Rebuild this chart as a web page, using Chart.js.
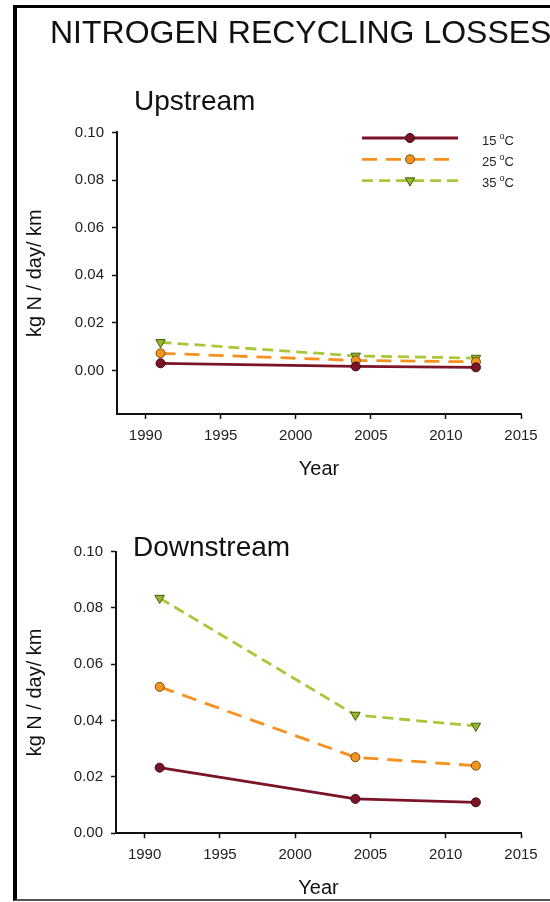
<!DOCTYPE html>
<html>
<head>
<meta charset="utf-8">
<script src="https://cdn.jsdelivr.net/npm/chart.js@4.4.1/dist/chart.umd.min.js"></script>
<style>
html, body { margin: 0; padding: 0; background: #fff; overflow: hidden; width: 550px; height: 902px; }
#frame { position: absolute; left: 13px; top: 5px; width: 600px; height: 891px;
         border-left: 4px solid #000; border-top: 3px solid #000; border-bottom: 2px solid #555; }
.txt { position: absolute; font-family: "Liberation Sans", Arial, sans-serif; color: #111;
       line-height: 1; white-space: nowrap; z-index: 2; }
canvas { position: absolute; left: 0; z-index: 1; }
</style>
</head>
<body>
<div id="frame"></div>
<div class="txt" style="left:50px; top:16px; font-size:32px;">NITROGEN RECYCLING LOSSES</div>
<div class="txt" style="left:134px; top:87px; font-size:28px;">Upstream</div>
<div class="txt" style="left:133px; top:533px; font-size:28px;">Downstream</div>
<canvas id="upChart" width="550" height="500" style="top:0px;"></canvas>
<canvas id="downChart" width="550" height="402" style="top:500px;"></canvas>
<script>
/* ==============================
   DATA
============================== */
var years = [1991, 2004, 2012];
var seriesNames = ["15", "25", "35"];

var upstream15 = [0.0030, 0.0017, 0.0013];
var upstream25 = [0.0072, 0.0042, 0.0036];
var upstream35 = [0.0118, 0.0061, 0.0052];

var downstream15 = [0.0233, 0.0122, 0.0110];
var downstream25 = [0.0520, 0.0270, 0.0240];
var downstream35 = [0.0835, 0.0420, 0.0381];

var yTicks = [0.00, 0.02, 0.04, 0.06, 0.08, 0.10];
var xTicks = [1990, 1995, 2000, 2005, 2010, 2015];

var FONT = "'Liberation Sans', Arial, sans-serif";

/* ==============================
   STYLES
============================== */
var seriesStyle = [
    { line: "#7b1428", fill: "#7b1428", edge: "#3a0810", dash: [], shape: "circle", radius: 4.5, rot: 0 },
    { line: "#f7901e", fill: "#f29520", edge: "#7a4a10", dash: [15, 9], shape: "circle", radius: 4.5, rot: 0 },
    { line: "#a8c83a", fill: "#92b82c", edge: "#4a5a10", dash: [11, 6], shape: "triangle", radius: 5.5, rot: 180 }
];

function makeDatasets(values) {
    return values.map(function (vals, i) {
        var s = seriesStyle[i];
        return {
            label: seriesNames[i],
            data: years.map(function (yr, k) { return { x: yr, y: vals[k] }; }),
            borderColor: s.line,
            borderWidth: 2.8,
            borderDash: s.dash,
            backgroundColor: s.fill,
            pointStyle: s.shape,
            pointRotation: s.rot,
            pointRadius: s.radius,
            pointBackgroundColor: s.fill,
            pointBorderColor: s.edge,
            pointBorderWidth: 1,
            tension: 0,
            fill: false
        };
    });
}

/* ==============================
   LEGEND (upper panel only)
============================== */
function drawMarker(ctx, s, x, y) {
    ctx.save();
    ctx.setLineDash([]);
    ctx.fillStyle = s.fill;
    ctx.strokeStyle = s.edge;
    ctx.lineWidth = 1;
    ctx.beginPath();
    if (s.shape === "circle") {
        ctx.arc(x, y, s.radius, 0, Math.PI * 2);
    } else {
        var r = s.radius;
        ctx.moveTo(x - r * 0.866, y - r * 0.5);
        ctx.lineTo(x + r * 0.866, y - r * 0.5);
        ctx.lineTo(x, y + r);
        ctx.closePath();
    }
    ctx.fill();
    ctx.stroke();
    ctx.restore();
}

var tempLegend = {
    id: "tempLegend",
    afterDraw: function (chart) {
        var ctx = chart.ctx;
        chart.data.datasets.forEach(function (ds, i) {
            var s = seriesStyle[i];
            var y = 138 + i * 21.3;
            ctx.save();
            ctx.strokeStyle = ds.borderColor;
            ctx.lineWidth = ds.borderWidth;
            ctx.setLineDash(ds.borderDash);
            ctx.beginPath();
            ctx.moveTo(362, y);
            ctx.lineTo(458, y);
            ctx.stroke();
            ctx.restore();
            drawMarker(ctx, s, 410, y);

            ctx.save();
            ctx.fillStyle = "#222";
            ctx.textBaseline = "alphabetic";
            ctx.font = "13px " + FONT;
            var x = 482;
            ctx.fillText(ds.label, x, y + 6.5);
            x += ctx.measureText(ds.label).width + 3;
            ctx.font = "9px " + FONT;
            ctx.fillText("o", x, y + 0.5);
            x += ctx.measureText("o").width;
            ctx.font = "13px " + FONT;
            ctx.fillText("C", x, y + 6.5);
            ctx.restore();
        });
    }
};

/* ==============================
   CHARTS
============================== */
function makeChart(id, datasets, cfg) {
    return new Chart(document.getElementById(id), {
        type: "line",
        data: { datasets: datasets },
        options: {
            responsive: false,
            animation: false,
            devicePixelRatio: 1,
            layout: {
                padding: { left: 0, right: 550 - cfg.right, top: cfg.top - cfg.canvasTop, bottom: 0 }
            },
            plugins: {
                legend: { display: false },
                tooltip: { enabled: false },
                title: { display: false }
            },
            scales: {
                x: {
                    type: "linear",
                    min: 1988.1,
                    max: 2015,
                    afterBuildTicks: function (s) { s.ticks = xTicks.map(function (v) { return { value: v }; }); },
                    afterFit: function (s) { s.height = cfg.canvasTop + cfg.canvasHeight - cfg.bottom; },
                    grid: { drawOnChartArea: false, drawTicks: true, tickLength: 5, tickColor: "#111", tickWidth: 1.5 },
                    border: { display: true, color: "#111", width: 2 },
                    ticks: {
                        color: "#222", padding: 8, maxRotation: 0, autoSkip: false,
                        font: { family: FONT, size: 15 },
                        callback: function (v) { return String(v); }
                    },
                    title: {
                        display: true, text: "Year", color: "#111",
                        font: { family: FONT, size: 20 },
                        padding: { top: 0, bottom: cfg.xTitlePad }
                    }
                },
                y: {
                    type: "linear",
                    min: cfg.yMin,
                    max: 0.10,
                    afterBuildTicks: function (s) { s.ticks = yTicks.map(function (v) { return { value: v }; }); },
                    afterFit: function (s) { s.width = cfg.left; },
                    grid: { drawOnChartArea: false, drawTicks: true, tickLength: 5, tickColor: "#111", tickWidth: 1.5 },
                    border: { display: true, color: "#111", width: 2 },
                    ticks: {
                        color: "#222", padding: 8,
                        font: { family: FONT, size: 15 },
                        callback: function (v) { return Number(v).toFixed(2); }
                    },
                    title: {
                        display: true, text: "kg N / day/ km", color: "#111",
                        font: { family: FONT, size: 20 },
                        padding: { top: 23, bottom: 0 }
                    }
                }
            }
        },
        plugins: cfg.legend ? [tempLegend] : []
    });
}

makeChart("upChart", makeDatasets([upstream15, upstream25, upstream35]), {
    canvasTop: 0, canvasHeight: 500,
    left: 117, right: 521, top: 132.4, bottom: 414,
    yMin: -0.0183, xTitlePad: 19, legend: true
});

makeChart("downChart", makeDatasets([downstream15, downstream25, downstream35]), {
    canvasTop: 500, canvasHeight: 402,
    left: 116, right: 521, top: 551.6, bottom: 833.3,
    yMin: 0, xTitlePad: 2, legend: false
});
</script>
</body>
</html>
